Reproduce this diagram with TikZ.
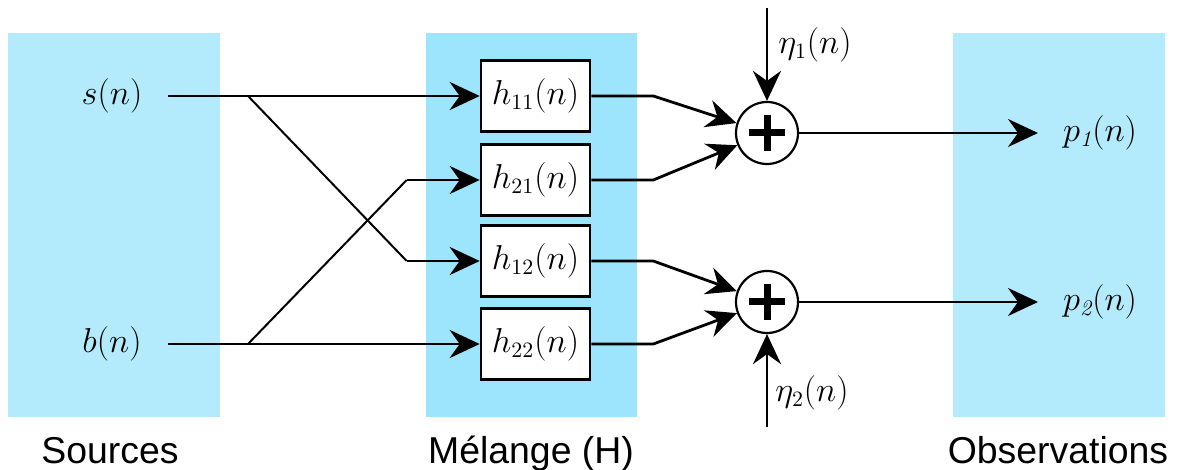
\documentclass[tikz,border=0pt]{standalone}
\usepackage{amsmath,amssymb}
\usepackage{fontspec}
\newfontfamily\labelfont{Liberation Sans}
\usepackage{tikz}
\usetikzlibrary{arrows.meta,calc}

\definecolor{lightpanel}{HTML}{B3EBFD}
\definecolor{darkpanel}{HTML}{9DE5FC}

\tikzset{
    filterbox/.style={draw, line width=1.3pt, fill=white, minimum width=54.5pt,
        minimum height=35.5pt, inner sep=0pt, font=\fontsize{16}{19}\selectfont},
    sumnode/.style={circle, draw, line width=1.1pt, fill=white, minimum size=31pt, inner sep=0pt},
    sig/.style={font=\fontsize{16}{19}\selectfont},
    caption/.style={font=\labelfont\fontsize{18.7}{22}\selectfont, anchor=base},
    wire/.style={line width=1.4pt},
    cross/.style={line width=1pt},
    arr/.style={wire, -{Stealth[length=15pt,width=14pt,inset=5pt]}},
}

\begin{document}
\begin{tikzpicture}[x=0.5pt,y=-0.5pt]
    \useasboundingbox (0,0) rectangle (1183,470);

    \fill[lightpanel] (8,33) rectangle (220,417);
    \fill[darkpanel] (426,33) rectangle (637,417);
    \fill[lightpanel] (953,33) rectangle (1165,417);

    \coordinate (sA) at (168,96);
    \coordinate (bA) at (168,344);
    \coordinate (sB) at (248,96);
    \coordinate (bB) at (248,344);
    \coordinate (e1) at (767,8);
    \coordinate (e2) at (767,427);
    \coordinate (o1) at (1038,133);
    \coordinate (o2) at (1038,302);

    \node[sig] (s) at (112,96) {$s(n)$};
    \node[sig] (b) at (112,344) {$b(n)$};

    \node[filterbox] (h11) at (535.5,96) {$h_{11}(n)$};
    \node[filterbox] (h21) at (535.5,180) {$h_{21}(n)$};
    \node[filterbox] (h12) at (535.5,261) {$h_{12}(n)$};
    \node[filterbox] (h22) at (535.5,344) {$h_{22}(n)$};

    \node[sumnode] (sum1) at (767,133) {};
    \node[sumnode] (sum2) at (767,302) {};
    \foreach \s in {sum1,sum2}
        \draw[line width=3.5pt] ($(\s)+(-18,0)$) -- ($(\s)+(18,0)$)
            ($(\s)+(0,-18)$) -- ($(\s)+(0,18)$);

    \draw[wire] (sA) -- (sB);
    \draw[arr] (sB) -- (h11);
    \draw[wire] (bA) -- (bB);
    \draw[arr] (bB) -- (h22);
    \draw[cross] (sB) -- ($(h12.west)+(-73,0)$) coordinate (k12);
    \draw[arr] (k12) -- (h12);
    \draw[cross] (bB) -- ($(h21.west)+(-73,0)$) coordinate (k21);
    \draw[arr] (k21) -- (h21);

    \draw[arr] (h11.east) -- ++(62,0) -- (sum1);
    \draw[arr] (h21.east) -- ++(62,0) -- (sum1);
    \draw[arr] (h12.east) -- ++(62,0) -- (sum2);
    \draw[arr] (h22.east) -- ++(62,0) -- (sum2);

    \draw[arr] (e1) -- (sum1);
    \draw[arr] (e2) -- (sum2);
    \node[sig] (eta1) at (815,45) {$\eta_1(n)$};
    \node[sig] (eta2) at (812,393) {$\eta_2(n)$};

    \draw[arr] (sum1) -- (o1);
    \draw[arr] (sum2) -- (o2);
    \node[sig] (p1) at (1100,133) {$p_{\mathit{1}}(n)$};
    \node[sig] (p2) at (1100,302) {$p_{\mathit{2}}(n)$};

    \node[caption] (src) at (110,463) {Sources};
    \node[caption] (mix) at (531,463) {Mélange (H)};
    \node[caption] (obs) at (1058,463) {Observations};
\end{tikzpicture}
\end{document}
